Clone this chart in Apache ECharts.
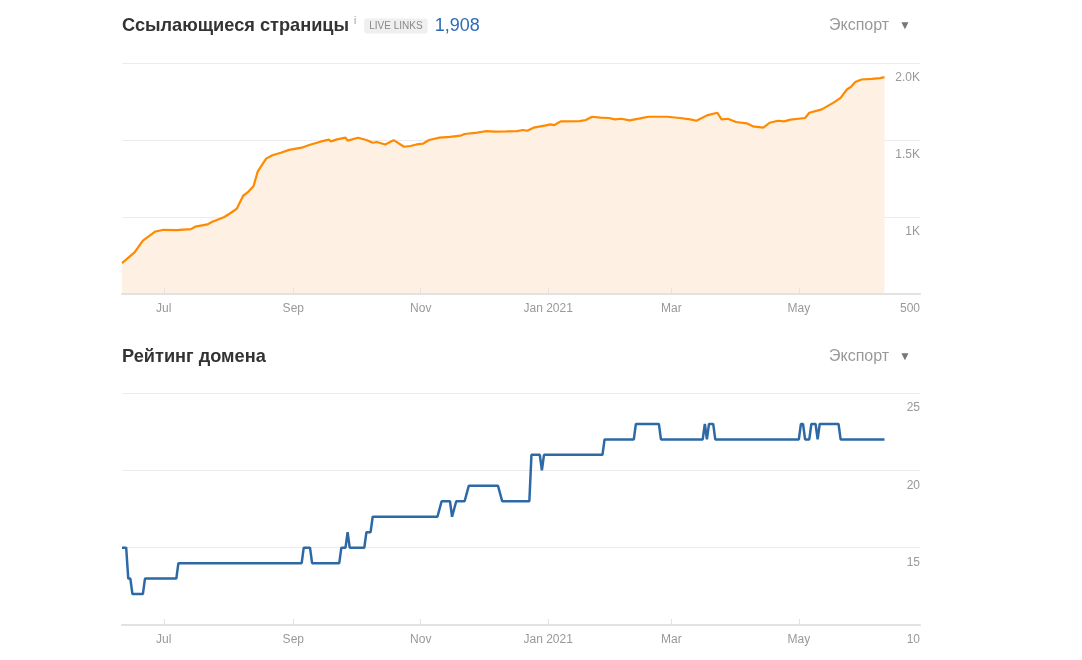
<!DOCTYPE html>
<html>
<head>
<meta charset="utf-8">
<script src="https://cdn.jsdelivr.net/npm/echarts@6/dist/echarts.min.js"></script>
<style>
  html, body { margin: 0; padding: 0; background: #fff; }
  #chart-container { width: 1082px; height: 660px; }
</style>
</head>
<body>
<div id="chart-container"></div>
<script>
// Ссылающиеся страницы (live links)
const linkDates = [
	'2020-06-11','2020-06-17','2020-06-21','2020-06-27','2020-07-01','2020-07-07','2020-07-14','2020-07-16',
	'2020-07-22','2020-07-24','2020-07-30','2020-08-02','2020-08-05','2020-08-08','2020-08-10','2020-08-13',
	'2020-08-15','2020-08-19','2020-08-22','2020-08-26','2020-08-30','2020-09-05','2020-09-09','2020-09-14',
	'2020-09-18','2020-09-19','2020-09-22','2020-09-26','2020-09-27','2020-10-02','2020-10-06','2020-10-09',
	'2020-10-11','2020-10-15','2020-10-19','2020-10-20','2020-10-24','2020-10-27','2020-10-30','2020-11-02',
	'2020-11-05','2020-11-10','2020-11-15','2020-11-20','2020-11-22','2020-11-28','2020-12-02','2020-12-07',
	'2020-12-12','2020-12-17','2020-12-20','2020-12-22','2020-12-25','2020-12-31','2021-01-02','2021-01-04',
	'2021-01-07','2021-01-16','2021-01-19','2021-01-22','2021-01-26','2021-01-30','2021-02-02','2021-02-05',
	'2021-02-09','2021-02-14','2021-02-18','2021-02-27','2021-03-05','2021-03-10','2021-03-13','2021-03-18',
	'2021-03-23','2021-03-25','2021-03-28','2021-04-01','2021-04-06','2021-04-09','2021-04-14','2021-04-17',
	'2021-04-21','2021-04-24','2021-04-27','2021-05-04','2021-05-06','2021-05-12','2021-05-18','2021-05-21',
	'2021-05-24','2021-05-26','2021-05-28','2021-05-31','2021-06-05','2021-06-09','2021-06-11'
];
const linkValues = [
	700, 770, 846, 906, 917, 915, 921, 937,
	952, 967, 1000, 1026, 1055, 1138, 1158, 1202,
	1296, 1379, 1401, 1417, 1436, 1450, 1469, 1489,
	1502, 1491, 1504, 1515, 1496, 1515, 1500, 1482,
	1487, 1471, 1498, 1491, 1456, 1461, 1471, 1476,
	1500, 1515, 1520, 1528, 1539, 1548, 1557, 1555,
	1556, 1558, 1565, 1560, 1580, 1595, 1601, 1597,
	1621, 1623, 1630, 1651, 1645, 1643, 1634, 1638,
	1627, 1640, 1651, 1651, 1643, 1634, 1625, 1660,
	1677, 1634, 1638, 1617, 1608, 1589, 1580, 1612,
	1625, 1621, 1632, 1643, 1677, 1699, 1746, 1774,
	1828, 1846, 1876, 1893, 1897, 1902, 1908
];

// Рейтинг домена
const ratingDates = [
	'2020-06-11','2020-06-13','2020-06-14','2020-06-15','2020-06-16','2020-06-21','2020-06-22','2020-07-07',
	'2020-07-08','2020-09-05','2020-09-06','2020-09-09','2020-09-10','2020-09-23','2020-09-24','2020-09-26',
	'2020-09-27','2020-09-28','2020-10-05','2020-10-06','2020-10-08','2020-10-09','2020-11-09','2020-11-11',
	'2020-11-15','2020-11-16','2020-11-18','2020-11-22','2020-11-24','2020-12-08','2020-12-10','2020-12-23',
	'2020-12-24','2020-12-28','2020-12-29','2020-12-30','2021-01-27','2021-01-28','2021-02-11','2021-02-12',
	'2021-02-23','2021-02-24','2021-03-16','2021-03-17','2021-03-18','2021-03-19','2021-03-21','2021-03-22',
	'2021-05-01','2021-05-02','2021-05-03','2021-05-04','2021-05-06','2021-05-07','2021-05-09','2021-05-10',
	'2021-05-11','2021-05-20','2021-05-21','2021-06-11'
];
const ratingValues = [
	15, 15, 13, 13, 12, 12, 13, 13,
	14, 14, 15, 15, 14, 14, 15, 15,
	16, 15, 15, 16, 16, 17, 17, 18,
	18, 17, 18, 18, 19, 19, 18, 18,
	21, 21, 20, 21, 21, 22, 22, 23,
	23, 22, 22, 23, 22, 23, 23, 22,
	22, 23, 23, 22, 22, 23, 23, 22,
	23, 23, 22, 22
];

const tickDates = ['2020-07-01', '2020-09-01', '2020-11-01', '2021-01-01', '2021-03-01', '2021-05-01'];
const tickLabels = ['Jul', 'Sep', 'Nov', 'Jan 2021', 'Mar', 'May'];
const linkAxisLabels = { 500: '500', 1000: '1K', 1500: '1.5K', 2000: '2.0K' };

const toTime = s => {
	const p = s.split('-').map(Number);
	return new Date(p[0], p[1] - 1, p[2]).getTime();
};
const tickTimes = tickDates.map(toTime);
const axisStart = toTime('2020-06-11');
const axisEnd = toTime('2021-06-28');

const font = "'Liberation Sans', Arial, sans-serif";

// value axis on timestamps, ticks only at month starts
const xAxisFor = (gridIndex) => ({
	type: 'value',
	gridIndex: gridIndex,
	z: 3,
	min: axisStart,
	max: axisEnd,
	axisLine: { show: true, lineStyle: { color: '#e2e2e2', width: 2 } },
	axisTick: {
		show: true, inside: true, length: 6,
		customValues: tickTimes,
		lineStyle: { color: '#e3e3e3' }
	},
	axisLabel: {
		customValues: tickTimes,
		color: '#999', fontSize: 12, fontFamily: font, margin: 9,
		formatter: (value) => {
			const i = tickTimes.indexOf(value);
			return i >= 0 ? tickLabels[i] : '';
		}
	},
	splitLine: { show: false }
});

const yAxisFor = (gridIndex, min, max, interval, fmt) => ({
	type: 'value',
	gridIndex: gridIndex,
	position: 'right',
	min: min, max: max, interval: interval,
	axisLine: { show: false },
	axisTick: { show: false },
	axisLabel: {
		inside: true, margin: 0,
		color: '#999', fontSize: 12, fontFamily: font,
		verticalAlign: 'top', padding: [9, 0, 0, 0],
		formatter: fmt
	},
	splitLine: { lineStyle: { color: '#ececec' } }
});

const exportTitle = (top) => ({
	right: 171, top: top, padding: 0,
	text: '{e|Экспорт}{a|▼}',
	textStyle: { rich: {
		e: { fontSize: 16, fontWeight: 'normal', color: '#999', fontFamily: font, lineHeight: 20, padding: [0, 10, 0, 0] },
		a: { fontSize: 12, fontWeight: 'normal', color: '#777', fontFamily: font }
	} }
});

const myChart = echarts.init(document.getElementById('chart-container'));
const option = {
	backgroundColor: '#fff',
	animation: false,
	title: [
		{
			left: 122, top: 14, padding: 0,
			text: '{t|Ссылающиеся страницы}{i|i}{b|LIVE LINKS}{n|1,908}',
			textStyle: {
				rich: {
					t: { fontSize: 18.2, fontWeight: 'bold', color: '#333', fontFamily: font, lineHeight: 24 },
					i: { fontSize: 10, fontWeight: 'normal', color: '#999', fontFamily: font, padding: [0, 8, 10, 5] },
					b: { fontSize: 10, fontWeight: 'normal', color: '#8a8a8a', fontFamily: font, backgroundColor: '#efefef',
						padding: [3, 5, 2, 5], borderRadius: 2 },
					n: { fontSize: 18, fontWeight: 'normal', color: '#2f6cb3', fontFamily: font, lineHeight: 24, padding: [0, 0, 0, 7] }
				}
			}
		},
		exportTitle(16),
		{
			left: 122, top: 345, padding: 0,
			text: 'Рейтинг домена',
			textStyle: { fontSize: 18.2, fontWeight: 'bold', color: '#333', fontFamily: font, lineHeight: 24 }
		},
		exportTitle(347)
	],
	grid: [
		{ left: 122, top: 63, width: 798, height: 231 },
		{ left: 122, top: 393, width: 798, height: 232 }
	],
	xAxis: [xAxisFor(0), xAxisFor(1)],
	yAxis: [
		yAxisFor(0, 500, 2000, 500, v => linkAxisLabels[v]),
		yAxisFor(1, 10, 25, 5, v => String(v))
	],
	series: [
		{
			name: 'Ссылающиеся страницы',
			type: 'line',
			xAxisIndex: 0, yAxisIndex: 0,
			data: linkDates.map((d, i) => [toTime(d), linkValues[i]]),
			showSymbol: false,
			lineStyle: { color: '#ff8a00', width: 2.2 },
			areaStyle: { color: '#fef1e3', opacity: 1, origin: 'start' }
		},
		{
			name: 'Рейтинг домена',
			type: 'line',
			xAxisIndex: 1, yAxisIndex: 1,
			data: ratingDates.map((d, i) => [toTime(d), ratingValues[i]]),
			showSymbol: false,
			lineStyle: { color: '#2d6aa5', width: 2.5 }
		}
	]
};
myChart.setOption(option);
</script>
</body>
</html>
